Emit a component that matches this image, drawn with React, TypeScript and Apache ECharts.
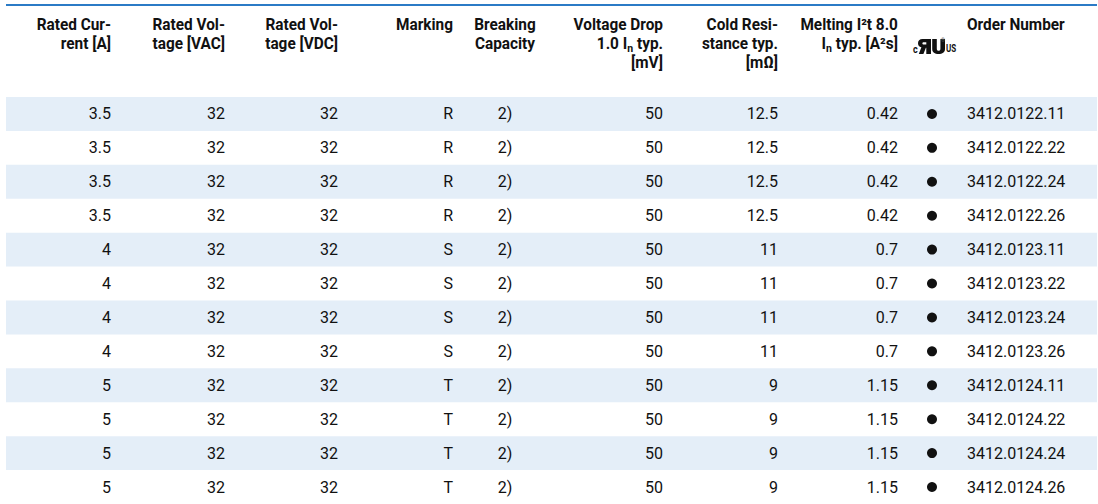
import React, { useEffect, useRef } from 'react';
import * as echarts from 'echarts';

// ---------- data ----------
const ratedCurrent = ['3.5', '3.5', '3.5', '3.5', '4', '4', '4', '4', '5', '5', '5', '5'];
const ratedVoltageAC = ['32', '32', '32', '32', '32', '32', '32', '32', '32', '32', '32', '32'];
const ratedVoltageDC = ['32', '32', '32', '32', '32', '32', '32', '32', '32', '32', '32', '32'];
const marking = ['R', 'R', 'R', 'R', 'S', 'S', 'S', 'S', 'T', 'T', 'T', 'T'];
const breakingCapacity = ['2)', '2)', '2)', '2)', '2)', '2)', '2)', '2)', '2)', '2)', '2)', '2)'];
const voltageDrop = ['50', '50', '50', '50', '50', '50', '50', '50', '50', '50', '50', '50'];
const coldResistance = ['12.5', '12.5', '12.5', '12.5', '11', '11', '11', '11', '9', '9', '9', '9'];
const meltingI2t = ['0.42', '0.42', '0.42', '0.42', '0.7', '0.7', '0.7', '0.7', '1.15', '1.15', '1.15', '1.15'];
const ulApproved = [true, true, true, true, true, true, true, true, true, true, true, true];
const orderNumbers = [
  '3412.0122.11', '3412.0122.22', '3412.0122.24', '3412.0122.26',
  '3412.0123.11', '3412.0123.22', '3412.0123.24', '3412.0123.26',
  '3412.0124.11', '3412.0124.22', '3412.0124.24', '3412.0124.26',
];
const rowIndex = orderNumbers.map((_, i) => String(i));

// ---------- layout (positions / styles only) ----------
const W = 1098;
const H = 504;
const FONT = 'Roboto, "Liberation Sans", sans-serif';
const TEXT_COLOR = '#111';
const BAND_COLOR = '#e4eef8';
const LINE_COLOR = '#2b7bc6';
const TABLE_LEFT = 6;
const TABLE_RIGHT = 1097;
const HEAD_FONT = `bold 16px ${FONT}`;
const SUB_FONT = `bold 11px ${FONT}`;
const HEAD_SCALE = 0.96;
const DATA_FONT = `16px ${FONT}`;

type Col = { x: number; align: 'left' | 'right' | 'center'; header: string[]; values: string[] };
const columns: Col[] = [
  { x: 111, align: 'right', header: ['Rated Cur-', 'rent [A]'], values: ratedCurrent },
  { x: 225, align: 'right', header: ['Rated Vol-', 'tage [VAC]'], values: ratedVoltageAC },
  { x: 338, align: 'right', header: ['Rated Vol-', 'tage [VDC]'], values: ratedVoltageDC },
  { x: 453, align: 'right', header: ['Marking'], values: marking },
  { x: 505, align: 'center', header: ['Breaking', 'Capacity'], values: breakingCapacity },
  { x: 663, align: 'right', header: ['Voltage Drop', '1.0 I{sub|n} typ.', '[mV]'], values: voltageDrop },
  { x: 778, align: 'right', header: ['Cold Resi-', 'stance typ.', '[mΩ]'], values: coldResistance },
  { x: 898, align: 'right', header: ['Melting I²t 8.0', 'I{sub|n} typ. [A²s]'], values: meltingI2t },
  { x: 967, align: 'left', header: ['Order Number'], values: orderNumbers },
];
const DOT_X = 932;
const HEADER_Y0 = 24;
const HEADER_LH = 19;

const UL_PATH =
  'M13,0 L4.6,0 C1.5,0 0,1.8 0,4.3 C0,6.5 1.2,7.9 3.4,8.3 L0.8,15 L5.4,15 L7.9,8.7 L8.3,8.7 L8.3,15 L13,15 Z ' +
  'M8.3,3.2 L8.3,5.6 L5.8,5.6 C4.9,5.6 4.4,5.1 4.4,4.4 C4.4,3.7 4.9,3.2 5.8,3.2 Z ' +
  'M14.2,0 L18.8,0 L18.8,9.8 C18.8,11.2 19.5,11.8 20.6,11.8 C21.7,11.8 22.4,11.2 22.4,9.8 L22.4,0 L27,0 L27,10 C27,13.5 24.4,15 20.6,15 C16.8,15 14.2,13.5 14.2,10 Z';

let registered = false;
function ensureShape() {
  if (registered) return;
  registered = true;
  echarts.graphic.registerShape('ulmark', (echarts.graphic as any).extendPath(UL_PATH, {}));
}

function buildHeaderLine(line: string, x: number, y: number, align: string, ctx: CanvasRenderingContext2D) {
  const segs: { text: string; sub: boolean }[] = [];
  const re = /\{sub\|(.*?)\}/g;
  let last = 0;
  let m: RegExpExecArray | null;
  while ((m = re.exec(line))) {
    if (m.index > last) segs.push({ text: line.slice(last, m.index), sub: false });
    segs.push({ text: m[1], sub: true });
    last = m.index + m[0].length;
  }
  if (last < line.length) segs.push({ text: line.slice(last), sub: false });
  const widths = segs.map((s) => {
    ctx.font = s.sub ? SUB_FONT : HEAD_FONT;
    return ctx.measureText(s.text).width * HEAD_SCALE;
  });
  const total = widths.reduce((a, b) => a + b, 0);
  let cx = align === 'right' ? x - total : align === 'center' ? x - total / 2 : x;
  return segs.map((s, i) => {
    const el = {
      type: 'text',
      x: cx,
      y: s.sub ? y + 5 : y,
      scaleX: HEAD_SCALE,
      style: {
        text: s.text,
        align: 'left',
        verticalAlign: 'middle',
        font: s.sub ? SUB_FONT : HEAD_FONT,
        fill: '#111',
      },
    };
    cx += widths[i];
    return el;
  });
}

export default function App() {
  const ref = useRef<HTMLDivElement>(null);

  useEffect(() => {
    document.body.style.margin = '0';
    ensureShape();
    const chart = echarts.init(ref.current!, undefined, { renderer: 'svg' });
    const ctx = document.createElement('canvas').getContext('2d')!;

    const headerElems: any[] = [];
    columns.forEach((col) => {
      col.header.forEach((line, li) => {
        headerElems.push(...buildHeaderLine(line, col.x, HEADER_Y0 + li * HEADER_LH, col.align, ctx));
      });
    });

    const option: any = {
      animation: false,
      grid: { left: 0, right: 0, top: 97, height: 408, containLabel: false },
      xAxis: { type: 'value', min: 0, max: W, show: false },
      yAxis: { type: 'category', data: rowIndex, inverse: true, show: false },
      graphic: [
        {
          type: 'line',
          shape: { x1: TABLE_LEFT, y1: 5, x2: TABLE_RIGHT, y2: 5 },
          style: { stroke: LINE_COLOR, lineWidth: 2 },
        },
        ...headerElems,
        { type: 'text', x: 913, y: 54, scaleX: 0.9, style: { text: 'c', font: `bold 10px ${FONT}`, fill: '#111', align: 'left', verticalAlign: 'bottom' } },
        { type: 'ulmark', x: 918, y: 39, scaleX: 1.0, scaleY: 1.0, style: { fill: '#111' } },
        { type: 'text', x: 946, y: 54, scaleX: 0.8, style: { text: 'US', font: `bold 10px ${FONT}`, fill: '#111', align: 'left', verticalAlign: 'bottom' } },
        { type: 'text', x: 941, y: 37, style: { text: '®', font: `5px ${FONT}`, fill: '#666', align: 'left', verticalAlign: 'top' } },
      ],
      series: [
        {
          type: 'custom',
          name: 'bands',
          silent: true,
          data: rowIndex.map((r, i) => [0, i]),
          renderItem: (params: any, api: any) => {
            const row = api.value(1);
            if (row % 2 !== 0) return null;
            const p0 = api.coord([TABLE_LEFT, row]);
            const p1 = api.coord([TABLE_RIGHT, row]);
            const h = api.size([0, 1])[1];
            return {
              type: 'rect',
              shape: { x: p0[0], y: p0[1] - h / 2, width: p1[0] - p0[0], height: h },
              style: { fill: BAND_COLOR },
            };
          },
          z: 1,
        },
        {
          type: 'custom',
          name: 'cells',
          silent: true,
          data: rowIndex.map((r, i) => [0, i]),
          renderItem: (params: any, api: any) => {
            const row = api.value(1);
            const children: any[] = columns.map((col) => {
              const p = api.coord([col.x, row]);
              return {
                type: 'text',
                x: p[0],
                y: p[1],
                style: {
                  text: col.values[row],
                  align: col.align,
                  verticalAlign: 'middle',
                  font: DATA_FONT,
                  fill: TEXT_COLOR,
                },
              };
            });
            if (ulApproved[row]) {
              const d = api.coord([DOT_X, row]);
              children.push({ type: 'circle', shape: { cx: d[0], cy: d[1], r: 5 }, style: { fill: '#111' } });
            }
            return { type: 'group', children };
          },
          z: 2,
        },
      ],
    };
    chart.setOption(option);
    return () => chart.dispose();
  }, []);

  return <div ref={ref} style={{ position: 'absolute', left: 0, top: 0, width: W, height: H }} />;
}
